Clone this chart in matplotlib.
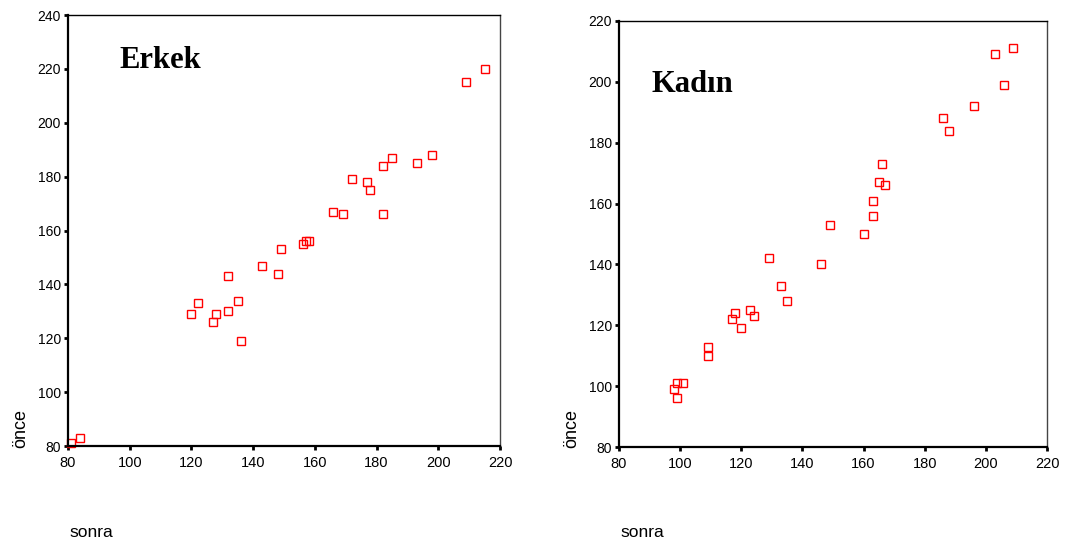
import numpy as np
import matplotlib
matplotlib.use("Agg")
import matplotlib.pyplot as plt

# Erkek (men): sonra vs önce
erkek_sonra = [81, 84, 120, 122, 127, 128, 132, 132, 135, 136, 143, 148, 149, 156, 157, 158,
               166, 169, 172, 177, 178, 182, 182, 185, 193, 198, 209, 215]
erkek_once = [81, 83, 129, 133, 126, 129, 143, 130, 134, 119, 147, 144, 153, 155, 156, 156,
              167, 166, 179, 178, 175, 184, 166, 187, 185, 188, 215, 220]

# Kadın (women)
kadin_sonra = [98, 99, 99, 101, 109, 109, 117, 118, 120, 123, 124, 129, 133, 135, 146, 149,
               160, 163, 163, 165, 167, 166, 186, 188, 196, 203, 206, 209]
kadin_once = [99, 101, 96, 101, 113, 110, 122, 124, 119, 125, 123, 142, 133, 128, 140, 153,
              150, 156, 161, 167, 166, 173, 188, 184, 192, 209, 199, 211]

x_ticks = [80, 100, 120, 140, 160, 180, 200, 220]
erkek_yticks = [80, 100, 120, 140, 160, 180, 200, 220, 240]
kadin_yticks = [80, 100, 120, 140, 160, 180, 200, 220]

sans = ['Liberation Sans', 'DejaVu Sans']
serif = ['Liberation Serif', 'DejaVu Serif']


def draw_panel(fig, rect, xs, ys, yticks, title, title_pos):
    ax = fig.add_axes(rect)
    ax.plot(xs, ys, 's', ms=5.3, mfc='none', mec='red', mew=1.0, clip_on=False)
    ax.set_xlim(80, 220)
    ax.set_ylim(yticks[0], yticks[-1])
    ax.set_xticks(x_ticks)
    ax.set_yticks(yticks)
    ax.set_xticklabels([str(t) for t in x_ticks], family=sans, fontsize=10.5)
    ax.set_yticklabels([str(t) for t in yticks], family=sans, fontsize=10)
    ax.tick_params(direction='out', length=3, width=2, pad=2)
    ax.tick_params(axis='x', pad=4)
    for s in ['left', 'bottom']:
        ax.spines[s].set_linewidth(1.6)
    for s in ['top', 'right']:
        ax.spines[s].set_linewidth(1.0)
    ax.spines['right'].set_color('#444444')
    ax.text(title_pos[0], title_pos[1], title, transform=ax.transAxes,
            family=serif, fontweight='bold', fontsize=22, va='baseline', ha='left')
    return ax


fig = plt.figure(figsize=(10.84, 5.44), dpi=100)

draw_panel(fig, [0.0627, 0.1801, 0.3986, 0.7923], erkek_sonra, erkek_once,
           erkek_yticks, 'Erkek', (0.12, 0.877))
draw_panel(fig, [0.571, 0.1783, 0.3949, 0.7831], kadin_sonra, kadin_once,
           kadin_yticks, 'Kadın', (0.075, 0.833))

# axis titles placed like the original output
fig.text(0.019, 0.176, 'önce', rotation=90, family=sans, fontsize=13,
         ha='center', va='bottom')
fig.text(0.064, 0.008, 'sonra', family=sans, fontsize=12.5, ha='left', va='bottom')
fig.text(0.527, 0.176, 'önce', rotation=90, family=sans, fontsize=13,
         ha='center', va='bottom')
fig.text(0.572, 0.008, 'sonra', family=sans, fontsize=12.5, ha='left', va='bottom')

fig.savefig('out.png', dpi=100)
